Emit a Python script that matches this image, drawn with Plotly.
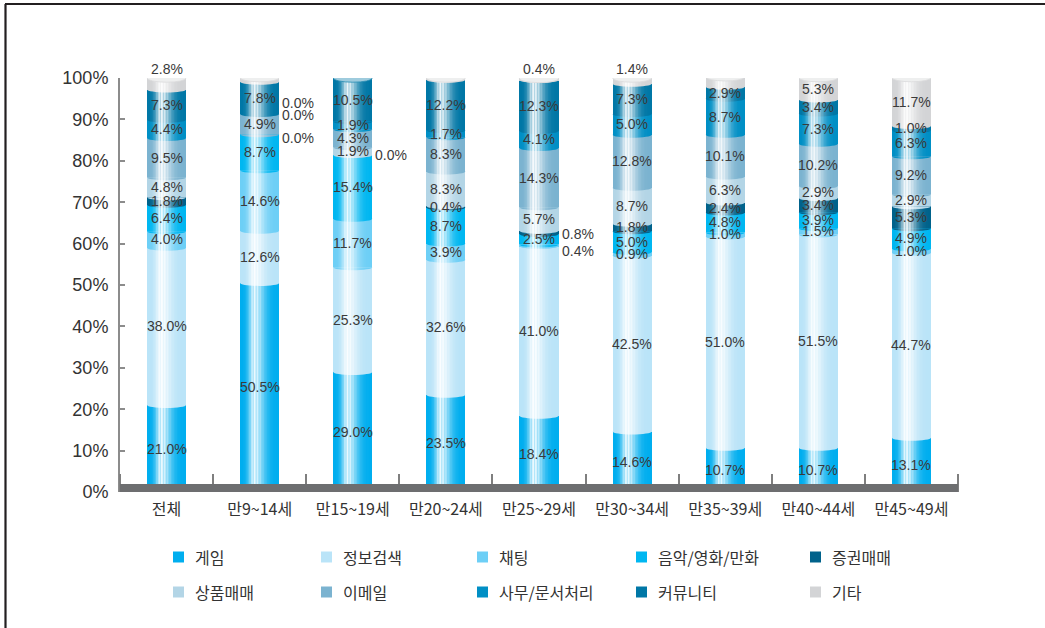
import plotly.graph_objects as go

# ---- data ---------------------------------------------------------------
categories = ["전체", "만9~14세", "만15~19세", "만20~24세", "만25~29세",
              "만30~34세", "만35~39세", "만40~44세", "만45~49세"]
series_names = ["게임", "정보검색", "채팅", "음악/영화/만화", "증권매매",
                "상품매매", "이메일", "사무/문서처리", "커뮤니티", "기타"]

game      = [21.0, 50.5, 29.0, 23.5, 18.4, 14.6, 10.7, 10.7, 13.1]
search    = [38.0, 12.6, 25.3, 32.6, 41.0, 42.5, 51.0, 51.5, 44.7]
chat      = [4.0, 14.6, 11.7, 3.9, 0.4, 0.9, 1.0, 1.5, 1.0]
media     = [6.4, 8.7, 15.4, 8.7, 2.5, 5.0, 4.8, 3.9, 4.9]
stocks    = [1.8, 0.0, 0.0, 0.4, 0.8, 1.8, 2.4, 3.4, 5.3]
shopping  = [4.8, 0.0, 1.9, 8.3, 5.7, 8.7, 6.3, 2.9, 2.9]
email     = [9.5, 4.9, 4.3, 8.3, 14.3, 12.8, 10.1, 10.2, 9.2]
office    = [4.4, 0.0, 1.9, 1.7, 4.1, 5.0, 8.7, 7.3, 6.3]
community = [7.3, 7.8, 10.5, 12.2, 12.3, 7.3, 2.9, 3.4, 1.0]
other     = [2.8, 1.0, 0.0, 0.4, 0.4, 1.4, 2.4, 5.3, 11.7]

series_values = [game, search, chat, media, stocks, shopping,
                 email, office, community, other]

y_tick_vals = [0, 10, 20, 30, 40, 50, 60, 70, 80, 90, 100]
y_tick_text = ["0%", "10%", "20%", "30%", "40%", "50%",
               "60%", "70%", "80%", "90%", "100%"]

# ---- styling ------------------------------------------------------------
colors = ["#00aeef", "#bae4f8", "#6dcff6", "#00b7f1", "#00628b",
          "#b3d5e6", "#7bb3d0", "#008fc5", "#0077a6", "#d3d4d6"]

# labels that sit beside the bar (category index, series index) -> shift in %
side_labels = {(1, 4): -1.0, (1, 5): 4.6, (1, 7): 2.6,
               (2, 4): 0.0, (4, 2): -1.3, (4, 4): -0.3}

W, H = 1045, 628
L, R, T, B = 120, 87, 78, 136
plot_w = W - L - R
plot_h = H - T - B
px_per_pct = plot_h / 100.0
BAR_W = 0.42
HALF = BAR_W / 2

label_font = dict(family="Liberation Sans Narrow, Arial Narrow, Liberation Sans, sans-serif",
                  size=14, color="#3a3a3a")
kr_font = "Noto Sans CJK KR, Noto Sans, sans-serif"


def px_x(px):
    return (px - L) / plot_w


def px_y(py):
    return (H - B - py) / plot_h


def blend(hex_color, other, t):
    a = [int(hex_color[i:i + 2], 16) for i in (1, 3, 5)]
    b = [int(other[i:i + 2], 16) for i in (1, 3, 5)]
    c = [round(a[k] + (b[k] - a[k]) * t) for k in range(3)]
    return "#%02x%02x%02x" % tuple(c)


x_idx = list(range(len(categories)))

fig = go.Figure()
for name, vals, col in zip(series_names, series_values, colors):
    fig.add_trace(go.Bar(
        x=x_idx, y=vals, name=name, width=BAR_W,
        marker=dict(color=col, line=dict(width=0)),
        showlegend=False, hoverinfo="skip",
    ))

shapes = []
annotations = []

dip = 3.0 / px_per_pct      # depth of the curved seam between segments
cap = 4.2 / px_per_pct      # half height of the cylinder lid
k = 0.5523

for i in x_idx:
    vals = [s[i] for s in series_values]
    cums = []
    acc = 0.0
    for v in vals:
        cums.append(acc)
        acc += v
    total = acc
    x0, x1 = i - HALF, i + HALF

    # curved lower rim of each segment
    for j, v in enumerate(vals):
        if v <= 0 or cums[j] <= 0:
            continue
        b = cums[j]
        path = (f"M {x0},{b} C {x0},{b - k * dip} {i - k * HALF},{b - dip} {i},{b - dip} "
                f"C {i + k * HALF},{b - dip} {x1},{b - k * dip} {x1},{b} Z")
        shapes.append(dict(type="path", path=path, xref="x", yref="y",
                           fillcolor=colors[j], line=dict(width=0), layer="above"))

    # horizontal highlight giving the rounded look
    n = 26
    for s in range(n):
        t = (s + 0.5) / n
        if t < 0.36:
            a = 0.92 * pow(2.718, -((t - 0.36) / 0.14) ** 2)
        else:
            a = 0.92 * pow(2.718, -((t - 0.36) / 0.26) ** 2)
        if a < 0.01:
            continue
        shapes.append(dict(type="rect", xref="x", yref="y",
                           x0=x0 + BAR_W * s / n, x1=x0 + BAR_W * (s + 1) / n,
                           y0=0, y1=total,
                           fillcolor="#ffffff", opacity=round(a, 3),
                           line=dict(width=0), layer="above"))

    # lid of the cylinder
    top_j = max(j for j, v in enumerate(vals) if v > 0)
    shapes.append(dict(type="circle", xref="x", yref="y",
                       x0=x0, x1=x1, y0=total - cap, y1=total + cap,
                       fillcolor=blend(colors[top_j], "#ffffff", 0.62),
                       line=dict(width=0.8, color=blend(colors[top_j], "#ffffff", 0.15)),
                       layer="above"))

    # value labels
    for j, v in enumerate(vals):
        txt = f"{v:.1f}%"
        if (i, j) in side_labels:
            annotations.append(dict(x=x1, y=cums[j] + v / 2 + side_labels[(i, j)],
                                    xref="x", yref="y", text=txt, showarrow=False,
                                    xanchor="left", yanchor="middle", xshift=1,
                                    font=label_font))
        elif j == len(vals) - 1 and v < 3:
            annotations.append(dict(x=i, y=total, xref="x", yref="y", text=txt,
                                    showarrow=False, xanchor="center",
                                    yanchor="middle", yshift=cap * px_per_pct + 5,
                                    font=label_font))
        else:
            annotations.append(dict(x=i, y=cums[j] + v / 2, xref="x", yref="y",
                                    text=txt, showarrow=False, xanchor="center",
                                    yanchor="middle", font=label_font))

# grey base band
shapes.append(dict(type="rect", xref="paper", yref="y", x0=0, x1=1,
                   y0=0, y1=8 / px_per_pct, fillcolor="#6d6e70",
                   line=dict(width=0), layer="above"))

# outer frame (top and left edges)
shapes.append(dict(type="line", xref="paper", yref="paper",
                   x0=px_x(5), x1=px_x(W), y0=px_y(4), y1=px_y(4),
                   line=dict(color="#231f20", width=2.2), layer="above"))
shapes.append(dict(type="line", xref="paper", yref="paper",
                   x0=px_x(5.5), x1=px_x(5.5), y0=px_y(4), y1=px_y(H),
                   line=dict(color="#231f20", width=2.2), layer="above"))

# legend, two rows of five
legend_cols_px = [193, 341, 497, 656, 830]
legend_rows_px = [557, 592]
for n_, (name, col) in enumerate(zip(series_names, colors)):
    r_, c_ = divmod(n_, 5)
    tx, ty = legend_cols_px[c_], legend_rows_px[r_]
    shapes.append(dict(type="rect", xref="paper", yref="paper",
                       x0=px_x(tx - 20), x1=px_x(tx - 9),
                       y0=px_y(ty + 5.5), y1=px_y(ty - 5.5),
                       fillcolor=col, line=dict(width=0), layer="above"))
    annotations.append(dict(x=px_x(tx), y=px_y(ty), xref="paper", yref="paper",
                            text=name, showarrow=False, xanchor="left",
                            yanchor="middle",
                            font=dict(family=kr_font, size=16, color="#333333")))

fig.update_layout(
    width=W, height=H,
    margin=dict(l=L, r=R, t=T, b=B, pad=0),
    paper_bgcolor="white", plot_bgcolor="white",
    barmode="stack", bargap=0,
    shapes=shapes, annotations=annotations,
    showlegend=False,
    xaxis=dict(
        range=[-0.5, len(categories) - 0.5],
        tickmode="array", tickvals=x_idx, ticktext=categories,
        ticks="", showgrid=False, zeroline=False, showline=False,
        tickfont=dict(family=kr_font, size=16, color="#333333"),
        ticklabelstandoff=6,
        minor=dict(tickmode="array",
                   tickvals=[v - 0.5 for v in range(len(categories) + 1)],
                   ticks="inside", ticklen=18, tickwidth=1.5,
                   tickcolor="#7f7f7f", showgrid=False),
        fixedrange=True,
    ),
    yaxis=dict(
        range=[0, 100],
        tickmode="array", tickvals=y_tick_vals, ticktext=y_tick_text,
        ticks="inside", ticklen=5, tickwidth=1.5, tickcolor="#8c8c8c",
        showline=True, linecolor="#8c8c8c", linewidth=2,
        showgrid=False, zeroline=False,
        tickfont=dict(family="Liberation Sans, Arial, sans-serif",
                      size=18, color="#333333"),
        ticklabelstandoff=6,
        fixedrange=True,
    ),
)

fig.write_html("out.html")
